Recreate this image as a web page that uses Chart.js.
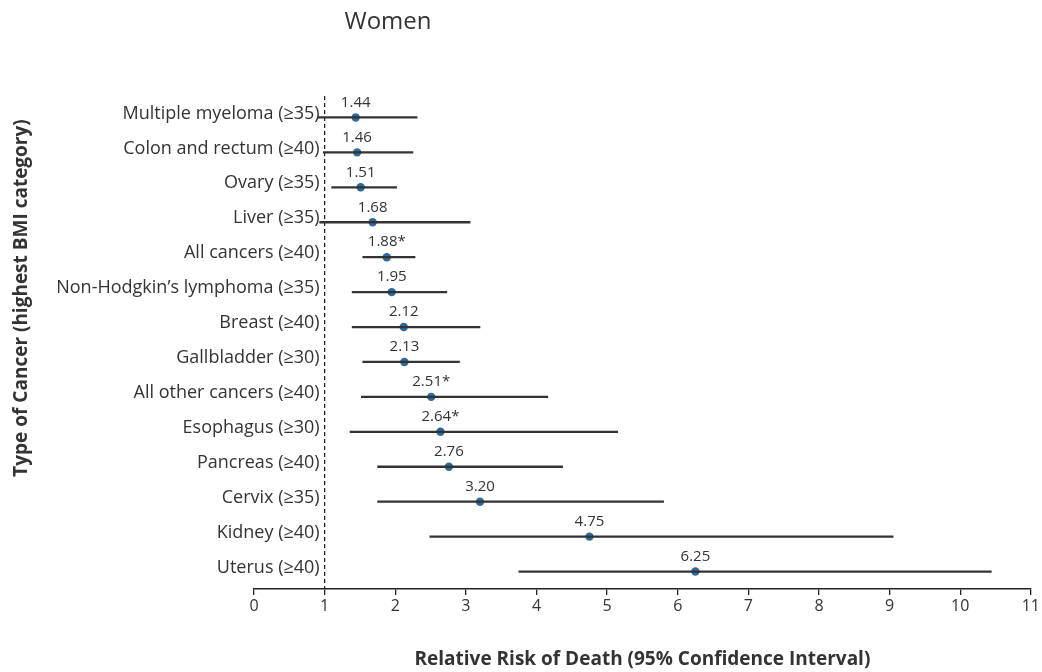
<!DOCTYPE html>
<html>
<head>
<meta charset="utf-8">
<title>Women</title>
<script src="https://cdn.jsdelivr.net/npm/chart.js@4.4.1/dist/chart.umd.min.js"></script>
<style>
  html, body { margin: 0; padding: 0; background: #fff; }
  #wrap { width: 1042px; height: 672px; }
</style>
</head>
<body>
<div id="wrap"><canvas id="myChart" width="1042" height="672"></canvas></div>
<script>
// data
const cancers = [
  'Multiple myeloma (≥35)', 'Colon and rectum (≥40)', 'Ovary (≥35)', 'Liver (≥35)',
  'All cancers (≥40)', 'Non-Hodgkin’s lymphoma (≥35)', 'Breast (≥40)', 'Gallbladder (≥30)',
  'All other cancers (≥40)', 'Esophagus (≥30)', 'Pancreas (≥40)', 'Cervix (≥35)',
  'Kidney (≥40)', 'Uterus (≥40)'
];
const riskValues = [1.44, 1.46, 1.51, 1.68, 1.88, 1.95, 2.12, 2.13, 2.51, 2.64, 2.76, 3.20, 4.75, 6.25];
const riskLabels = ['1.44', '1.46', '1.51', '1.68', '1.88*', '1.95', '2.12', '2.13', '2.51*', '2.64*', '2.76', '3.20', '4.75', '6.25'];
const ciLow  = [0.90, 0.98, 1.10, 0.93, 1.54, 1.39, 1.39, 1.54, 1.52, 1.36, 1.75, 1.75, 2.49, 3.75];
const ciHigh = [2.31, 2.25, 2.02, 3.06, 2.28, 2.73, 3.20, 2.91, 4.16, 5.15, 4.37, 5.80, 9.05, 10.44];
const xTicks = [0, 1, 2, 3, 4, 5, 6, 7, 8, 9, 10, 11];
const refLine = 1;

const titleText = 'Women';
const yTitle = 'Type of Cancer (highest BMI category)';
const xTitle = 'Relative Risk of Death (95% Confidence Interval)';

const FONT = '"Open Sans", "Noto Sans", sans-serif';
const TEXT = '#333';

// dashed reference line, category names, value labels, titles
const annotations = {
  id: 'annotations',
  beforeDatasetsDraw(chart) {
    const {ctx, chartArea, scales} = chart;
    const x = scales.x.getPixelForValue(refLine);
    ctx.save();
    ctx.strokeStyle = '#222';
    ctx.lineWidth = 1.3;
    ctx.setLineDash([4, 3]);
    ctx.beginPath();
    ctx.moveTo(x, chartArea.top - 4);
    ctx.lineTo(x, chartArea.bottom);
    ctx.stroke();
    ctx.restore();
  },
  afterDraw(chart) {
    const {ctx, scales} = chart;
    const xs = scales.x, ys = scales.y;
    ctx.save();
    ctx.fillStyle = TEXT;

    // category names, right aligned against the reference line
    ctx.font = '18px ' + FONT;
    ctx.textAlign = 'right';
    ctx.textBaseline = 'middle';
    const lx = xs.getPixelForValue(refLine) - 5;
    cancers.forEach((name, i) => {
      ctx.fillText(name, lx, ys.getPixelForValue(i) - 4);
    });

    // value above each point
    ctx.font = '15px ' + FONT;
    ctx.textAlign = 'center';
    const pts = chart.getDatasetMeta(1).data;
    pts.forEach((p, i) => {
      ctx.fillText(riskLabels[i], p.x, p.y - 15);
    });

    // chart title
    ctx.font = '24px ' + FONT;
    ctx.fillText(titleText, 388, 22);

    // y axis title
    ctx.font = 'bold 19px ' + FONT;
    ctx.translate(22, 298);
    ctx.rotate(-Math.PI / 2);
    ctx.fillText(yTitle, 0, 0);
    ctx.restore();
  }
};

const ctx = document.getElementById('myChart').getContext('2d');
const myChart = new Chart(ctx, {
  type: 'bar',
  data: {
    labels: cancers,
    datasets: [{
      type: 'bar',
      indexAxis: 'y',
      data: ciLow.map((lo, i) => [lo, ciHigh[i]]),
      backgroundColor: '#333',
      barThickness: 1.6,
      borderWidth: 0
    }, {
      type: 'line',
      indexAxis: 'y',
      data: riskValues,
      showLine: false,
      pointRadius: 4.2,
      pointHoverRadius: 4.2,
      pointBackgroundColor: '#2c6a9c',
      pointBorderWidth: 0
    }]
  },
  options: {
    indexAxis: 'y',
    responsive: false,
    animation: false,
    layout: { padding: { top: 100, right: 10, bottom: 0, left: 0 } },
    plugins: { legend: { display: false }, tooltip: { enabled: false } },
    scales: {
      y: {
        type: 'category',
        position: 'left',
        offset: true,
        grid: { display: false },
        border: { display: false },
        ticks: { display: false },
        afterFit: s => { s.width = 254; }
      },
      x: {
        type: 'linear',
        position: 'bottom',
        min: 0,
        max: 11,
        afterBuildTicks: s => { s.ticks = xTicks.map(v => ({ value: v })); },
        grid: { drawOnChartArea: false, drawTicks: true, tickLength: 6, color: '#222', lineWidth: 1.3 },
        border: { color: '#222', width: 1.5 },
        ticks: { color: TEXT, font: { family: FONT, size: 16 }, padding: 2 },
        title: {
          display: true,
          text: xTitle,
          color: TEXT,
          font: { family: FONT, size: 19, weight: 'bold' },
          padding: { top: 0, bottom: 1 }
        },
        afterFit: s => { s.height = 83; }
      }
    }
  },
  plugins: [annotations]
});
</script>
</body>
</html>
